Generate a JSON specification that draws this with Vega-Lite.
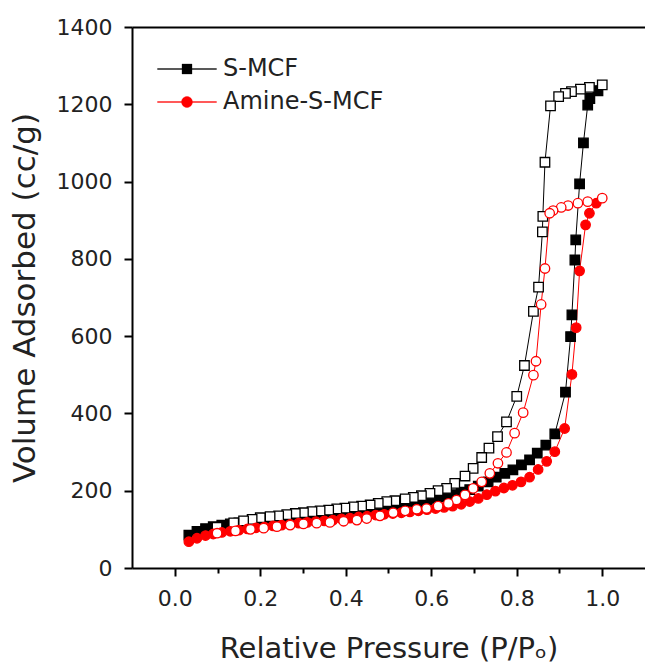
{
  "$schema": "https://vega.github.io/schema/vega-lite/v6.json",
  "autosize": "none",
  "width": 513,
  "height": 541,
  "padding": {"left": 132, "top": 27, "right": 0, "bottom": 103},
  "background": "white",
  "config": {
    "view": {"stroke": null},
    "font": "DejaVu Sans",
    "axis": {"domainColor": "black", "domainWidth": 2, "tickColor": "black", "tickWidth": 2, "labelColor": "#222", "titleColor": "#222", "labelFont": "DejaVu Sans", "titleFont": "DejaVu Sans", "titleFontWeight": "normal", "grid": false}
  },
  "data": {
    "values": [
      {"series": "S-MCF", "branch": "ads", "p": 0.033, "v": 85},
      {"series": "S-MCF", "branch": "ads", "p": 0.052, "v": 95},
      {"series": "S-MCF", "branch": "ads", "p": 0.072, "v": 102},
      {"series": "S-MCF", "branch": "ads", "p": 0.09, "v": 107},
      {"series": "S-MCF", "branch": "ads", "p": 0.11, "v": 111},
      {"series": "S-MCF", "branch": "ads", "p": 0.13, "v": 114},
      {"series": "S-MCF", "branch": "ads", "p": 0.15, "v": 117},
      {"series": "S-MCF", "branch": "ads", "p": 0.17, "v": 120},
      {"series": "S-MCF", "branch": "ads", "p": 0.19, "v": 123},
      {"series": "S-MCF", "branch": "ads", "p": 0.21, "v": 126},
      {"series": "S-MCF", "branch": "ads", "p": 0.23, "v": 129},
      {"series": "S-MCF", "branch": "ads", "p": 0.25, "v": 131},
      {"series": "S-MCF", "branch": "ads", "p": 0.27, "v": 134},
      {"series": "S-MCF", "branch": "ads", "p": 0.29, "v": 136},
      {"series": "S-MCF", "branch": "ads", "p": 0.31, "v": 138},
      {"series": "S-MCF", "branch": "ads", "p": 0.33, "v": 141},
      {"series": "S-MCF", "branch": "ads", "p": 0.35, "v": 143},
      {"series": "S-MCF", "branch": "ads", "p": 0.37, "v": 145},
      {"series": "S-MCF", "branch": "ads", "p": 0.39, "v": 148},
      {"series": "S-MCF", "branch": "ads", "p": 0.41, "v": 150},
      {"series": "S-MCF", "branch": "ads", "p": 0.43, "v": 152},
      {"series": "S-MCF", "branch": "ads", "p": 0.45, "v": 155},
      {"series": "S-MCF", "branch": "ads", "p": 0.47, "v": 158},
      {"series": "S-MCF", "branch": "ads", "p": 0.49, "v": 160},
      {"series": "S-MCF", "branch": "ads", "p": 0.51, "v": 163},
      {"series": "S-MCF", "branch": "ads", "p": 0.53, "v": 166},
      {"series": "S-MCF", "branch": "ads", "p": 0.55, "v": 169},
      {"series": "S-MCF", "branch": "ads", "p": 0.57, "v": 172},
      {"series": "S-MCF", "branch": "ads", "p": 0.59, "v": 176},
      {"series": "S-MCF", "branch": "ads", "p": 0.61, "v": 180},
      {"series": "S-MCF", "branch": "ads", "p": 0.63, "v": 185},
      {"series": "S-MCF", "branch": "ads", "p": 0.65, "v": 190},
      {"series": "S-MCF", "branch": "ads", "p": 0.67, "v": 196},
      {"series": "S-MCF", "branch": "ads", "p": 0.69, "v": 203},
      {"series": "S-MCF", "branch": "ads", "p": 0.71, "v": 212},
      {"series": "S-MCF", "branch": "ads", "p": 0.733, "v": 223},
      {"series": "S-MCF", "branch": "ads", "p": 0.752, "v": 235},
      {"series": "S-MCF", "branch": "ads", "p": 0.772, "v": 245},
      {"series": "S-MCF", "branch": "ads", "p": 0.791, "v": 254},
      {"series": "S-MCF", "branch": "ads", "p": 0.811, "v": 267},
      {"series": "S-MCF", "branch": "ads", "p": 0.83, "v": 280},
      {"series": "S-MCF", "branch": "ads", "p": 0.848, "v": 297},
      {"series": "S-MCF", "branch": "ads", "p": 0.868, "v": 318},
      {"series": "S-MCF", "branch": "ads", "p": 0.889, "v": 347},
      {"series": "S-MCF", "branch": "ads", "p": 0.914, "v": 455},
      {"series": "S-MCF", "branch": "ads", "p": 0.926, "v": 599},
      {"series": "S-MCF", "branch": "ads", "p": 0.929, "v": 655},
      {"series": "S-MCF", "branch": "ads", "p": 0.936, "v": 797},
      {"series": "S-MCF", "branch": "ads", "p": 0.938, "v": 849},
      {"series": "S-MCF", "branch": "ads", "p": 0.947, "v": 994},
      {"series": "S-MCF", "branch": "ads", "p": 0.956, "v": 1100},
      {"series": "S-MCF", "branch": "ads", "p": 0.966, "v": 1198},
      {"series": "S-MCF", "branch": "ads", "p": 0.971, "v": 1215},
      {"series": "S-MCF", "branch": "ads", "p": 0.99, "v": 1235},
      {"series": "S-MCF", "branch": "des", "p": 1.0, "v": 1250},
      {"series": "S-MCF", "branch": "des", "p": 0.97, "v": 1244},
      {"series": "S-MCF", "branch": "des", "p": 0.949, "v": 1239},
      {"series": "S-MCF", "branch": "des", "p": 0.928, "v": 1233},
      {"series": "S-MCF", "branch": "des", "p": 0.914, "v": 1228},
      {"series": "S-MCF", "branch": "des", "p": 0.898, "v": 1220},
      {"series": "S-MCF", "branch": "des", "p": 0.879, "v": 1196},
      {"series": "S-MCF", "branch": "des", "p": 0.866, "v": 1050},
      {"series": "S-MCF", "branch": "des", "p": 0.861, "v": 910},
      {"series": "S-MCF", "branch": "des", "p": 0.86, "v": 870},
      {"series": "S-MCF", "branch": "des", "p": 0.851, "v": 727},
      {"series": "S-MCF", "branch": "des", "p": 0.839, "v": 664},
      {"series": "S-MCF", "branch": "des", "p": 0.818, "v": 524},
      {"series": "S-MCF", "branch": "des", "p": 0.8, "v": 444},
      {"series": "S-MCF", "branch": "des", "p": 0.776, "v": 378},
      {"series": "S-MCF", "branch": "des", "p": 0.755, "v": 340},
      {"series": "S-MCF", "branch": "des", "p": 0.735, "v": 310},
      {"series": "S-MCF", "branch": "des", "p": 0.718, "v": 286},
      {"series": "S-MCF", "branch": "des", "p": 0.698, "v": 258},
      {"series": "S-MCF", "branch": "des", "p": 0.679, "v": 238},
      {"series": "S-MCF", "branch": "des", "p": 0.655, "v": 219},
      {"series": "S-MCF", "branch": "des", "p": 0.636, "v": 206},
      {"series": "S-MCF", "branch": "des", "p": 0.616, "v": 200},
      {"series": "S-MCF", "branch": "des", "p": 0.597, "v": 193},
      {"series": "S-MCF", "branch": "des", "p": 0.577, "v": 187},
      {"series": "S-MCF", "branch": "des", "p": 0.558, "v": 183},
      {"series": "S-MCF", "branch": "des", "p": 0.539, "v": 179},
      {"series": "S-MCF", "branch": "des", "p": 0.515, "v": 174},
      {"series": "S-MCF", "branch": "des", "p": 0.496, "v": 172},
      {"series": "S-MCF", "branch": "des", "p": 0.476, "v": 167},
      {"series": "S-MCF", "branch": "des", "p": 0.457, "v": 163},
      {"series": "S-MCF", "branch": "des", "p": 0.437, "v": 160},
      {"series": "S-MCF", "branch": "des", "p": 0.418, "v": 158},
      {"series": "S-MCF", "branch": "des", "p": 0.398, "v": 155},
      {"series": "S-MCF", "branch": "des", "p": 0.379, "v": 153},
      {"series": "S-MCF", "branch": "des", "p": 0.36, "v": 150},
      {"series": "S-MCF", "branch": "des", "p": 0.34, "v": 148},
      {"series": "S-MCF", "branch": "des", "p": 0.321, "v": 146},
      {"series": "S-MCF", "branch": "des", "p": 0.301, "v": 143},
      {"series": "S-MCF", "branch": "des", "p": 0.282, "v": 141},
      {"series": "S-MCF", "branch": "des", "p": 0.262, "v": 138},
      {"series": "S-MCF", "branch": "des", "p": 0.243, "v": 135},
      {"series": "S-MCF", "branch": "des", "p": 0.223, "v": 133},
      {"series": "S-MCF", "branch": "des", "p": 0.2, "v": 130},
      {"series": "S-MCF", "branch": "des", "p": 0.181, "v": 126},
      {"series": "S-MCF", "branch": "des", "p": 0.161, "v": 122},
      {"series": "S-MCF", "branch": "des", "p": 0.138, "v": 117},
      {"series": "S-MCF", "branch": "des", "p": 0.099, "v": 105},
      {"series": "Amine-S-MCF", "branch": "ads", "p": 0.033, "v": 68},
      {"series": "Amine-S-MCF", "branch": "ads", "p": 0.052, "v": 77},
      {"series": "Amine-S-MCF", "branch": "ads", "p": 0.072, "v": 84},
      {"series": "Amine-S-MCF", "branch": "ads", "p": 0.09, "v": 88},
      {"series": "Amine-S-MCF", "branch": "ads", "p": 0.11, "v": 92},
      {"series": "Amine-S-MCF", "branch": "ads", "p": 0.13, "v": 95},
      {"series": "Amine-S-MCF", "branch": "ads", "p": 0.15, "v": 98},
      {"series": "Amine-S-MCF", "branch": "ads", "p": 0.17, "v": 101},
      {"series": "Amine-S-MCF", "branch": "ads", "p": 0.19, "v": 104},
      {"series": "Amine-S-MCF", "branch": "ads", "p": 0.21, "v": 106},
      {"series": "Amine-S-MCF", "branch": "ads", "p": 0.23, "v": 109},
      {"series": "Amine-S-MCF", "branch": "ads", "p": 0.25, "v": 111},
      {"series": "Amine-S-MCF", "branch": "ads", "p": 0.27, "v": 113},
      {"series": "Amine-S-MCF", "branch": "ads", "p": 0.29, "v": 116},
      {"series": "Amine-S-MCF", "branch": "ads", "p": 0.31, "v": 118},
      {"series": "Amine-S-MCF", "branch": "ads", "p": 0.33, "v": 120},
      {"series": "Amine-S-MCF", "branch": "ads", "p": 0.35, "v": 122},
      {"series": "Amine-S-MCF", "branch": "ads", "p": 0.37, "v": 124},
      {"series": "Amine-S-MCF", "branch": "ads", "p": 0.39, "v": 127},
      {"series": "Amine-S-MCF", "branch": "ads", "p": 0.41, "v": 129},
      {"series": "Amine-S-MCF", "branch": "ads", "p": 0.43, "v": 132},
      {"series": "Amine-S-MCF", "branch": "ads", "p": 0.45, "v": 134},
      {"series": "Amine-S-MCF", "branch": "ads", "p": 0.47, "v": 137},
      {"series": "Amine-S-MCF", "branch": "ads", "p": 0.49, "v": 139},
      {"series": "Amine-S-MCF", "branch": "ads", "p": 0.51, "v": 141},
      {"series": "Amine-S-MCF", "branch": "ads", "p": 0.53, "v": 143},
      {"series": "Amine-S-MCF", "branch": "ads", "p": 0.55, "v": 145},
      {"series": "Amine-S-MCF", "branch": "ads", "p": 0.57, "v": 148},
      {"series": "Amine-S-MCF", "branch": "ads", "p": 0.59, "v": 151},
      {"series": "Amine-S-MCF", "branch": "ads", "p": 0.61, "v": 154},
      {"series": "Amine-S-MCF", "branch": "ads", "p": 0.63, "v": 157},
      {"series": "Amine-S-MCF", "branch": "ads", "p": 0.65, "v": 160},
      {"series": "Amine-S-MCF", "branch": "ads", "p": 0.67, "v": 165},
      {"series": "Amine-S-MCF", "branch": "ads", "p": 0.69, "v": 172},
      {"series": "Amine-S-MCF", "branch": "ads", "p": 0.71, "v": 180},
      {"series": "Amine-S-MCF", "branch": "ads", "p": 0.73, "v": 190},
      {"series": "Amine-S-MCF", "branch": "ads", "p": 0.75, "v": 199},
      {"series": "Amine-S-MCF", "branch": "ads", "p": 0.77, "v": 207},
      {"series": "Amine-S-MCF", "branch": "ads", "p": 0.79, "v": 214},
      {"series": "Amine-S-MCF", "branch": "ads", "p": 0.81, "v": 223},
      {"series": "Amine-S-MCF", "branch": "ads", "p": 0.83, "v": 235},
      {"series": "Amine-S-MCF", "branch": "ads", "p": 0.85, "v": 255},
      {"series": "Amine-S-MCF", "branch": "ads", "p": 0.87, "v": 276},
      {"series": "Amine-S-MCF", "branch": "ads", "p": 0.889, "v": 301},
      {"series": "Amine-S-MCF", "branch": "ads", "p": 0.912, "v": 361},
      {"series": "Amine-S-MCF", "branch": "ads", "p": 0.929, "v": 501},
      {"series": "Amine-S-MCF", "branch": "ads", "p": 0.939, "v": 622},
      {"series": "Amine-S-MCF", "branch": "ads", "p": 0.947, "v": 769},
      {"series": "Amine-S-MCF", "branch": "ads", "p": 0.961, "v": 888},
      {"series": "Amine-S-MCF", "branch": "ads", "p": 0.97, "v": 918},
      {"series": "Amine-S-MCF", "branch": "ads", "p": 0.986, "v": 944},
      {"series": "Amine-S-MCF", "branch": "des", "p": 1.0, "v": 957},
      {"series": "Amine-S-MCF", "branch": "des", "p": 0.966, "v": 948},
      {"series": "Amine-S-MCF", "branch": "des", "p": 0.943, "v": 944},
      {"series": "Amine-S-MCF", "branch": "des", "p": 0.92, "v": 938},
      {"series": "Amine-S-MCF", "branch": "des", "p": 0.904, "v": 933},
      {"series": "Amine-S-MCF", "branch": "des", "p": 0.885, "v": 925},
      {"series": "Amine-S-MCF", "branch": "des", "p": 0.877, "v": 918},
      {"series": "Amine-S-MCF", "branch": "des", "p": 0.866, "v": 775},
      {"series": "Amine-S-MCF", "branch": "des", "p": 0.857, "v": 682},
      {"series": "Amine-S-MCF", "branch": "des", "p": 0.845, "v": 535},
      {"series": "Amine-S-MCF", "branch": "des", "p": 0.839, "v": 499},
      {"series": "Amine-S-MCF", "branch": "des", "p": 0.815, "v": 402},
      {"series": "Amine-S-MCF", "branch": "des", "p": 0.795, "v": 349},
      {"series": "Amine-S-MCF", "branch": "des", "p": 0.776, "v": 299},
      {"series": "Amine-S-MCF", "branch": "des", "p": 0.756, "v": 271},
      {"series": "Amine-S-MCF", "branch": "des", "p": 0.737, "v": 245},
      {"series": "Amine-S-MCF", "branch": "des", "p": 0.718, "v": 223},
      {"series": "Amine-S-MCF", "branch": "des", "p": 0.698, "v": 206},
      {"series": "Amine-S-MCF", "branch": "des", "p": 0.679, "v": 189},
      {"series": "Amine-S-MCF", "branch": "des", "p": 0.659, "v": 176},
      {"series": "Amine-S-MCF", "branch": "des", "p": 0.64, "v": 167},
      {"series": "Amine-S-MCF", "branch": "des", "p": 0.616, "v": 160},
      {"series": "Amine-S-MCF", "branch": "des", "p": 0.589, "v": 154},
      {"series": "Amine-S-MCF", "branch": "des", "p": 0.566, "v": 152},
      {"series": "Amine-S-MCF", "branch": "des", "p": 0.539, "v": 148},
      {"series": "Amine-S-MCF", "branch": "des", "p": 0.511, "v": 143},
      {"series": "Amine-S-MCF", "branch": "des", "p": 0.48, "v": 135},
      {"series": "Amine-S-MCF", "branch": "des", "p": 0.449, "v": 128},
      {"series": "Amine-S-MCF", "branch": "des", "p": 0.426, "v": 124},
      {"series": "Amine-S-MCF", "branch": "des", "p": 0.395, "v": 121},
      {"series": "Amine-S-MCF", "branch": "des", "p": 0.363, "v": 118},
      {"series": "Amine-S-MCF", "branch": "des", "p": 0.332, "v": 116},
      {"series": "Amine-S-MCF", "branch": "des", "p": 0.301, "v": 114},
      {"series": "Amine-S-MCF", "branch": "des", "p": 0.27, "v": 111},
      {"series": "Amine-S-MCF", "branch": "des", "p": 0.239, "v": 107},
      {"series": "Amine-S-MCF", "branch": "des", "p": 0.208, "v": 103},
      {"series": "Amine-S-MCF", "branch": "des", "p": 0.177, "v": 100},
      {"series": "Amine-S-MCF", "branch": "des", "p": 0.142, "v": 96},
      {"series": "Amine-S-MCF", "branch": "des", "p": 0.099, "v": 90}
    ]
  },
  "transform": [
    {"window": [{"op": "row_number", "as": "seq"}]},
    {"calculate": "datum.series", "as": "sample"}
  ],
  "resolve": {"axis": {"x": "independent"}},
  "layer": [
    {
      "mark": {"type": "line", "strokeWidth": 1},
      "encoding": {
        "x": {
          "field": "p", "type": "quantitative",
          "scale": {"domain": [-0.1, 1.1], "nice": false, "zero": false},
          "axis": {
            "values": [0, 0.1, 0.2, 0.3, 0.4, 0.5, 0.6, 0.7, 0.8, 0.9, 1.0],
            "format": ".1f",
            "labelExpr": "round(datum.value * 10) % 2 === 0 ? datum.label : ''",
            "tickSize": {"condition": {"test": "round(datum.value * 10) % 2 === 0", "value": 8}, "value": 5},
            "labelFontSize": 22, "labelPadding": 12,
            "title": "Relative Pressure (P/Pₒ)", "titleFontSize": 29, "titlePadding": 25
          }
        },
        "y": {
          "field": "v", "type": "quantitative",
          "scale": {"domain": [0, 1400], "nice": false},
          "axis": {
            "values": [0, 100, 200, 300, 400, 500, 600, 700, 800, 900, 1000, 1100, 1200, 1300, 1400],
            "format": "d",
            "labelExpr": "datum.value % 200 === 0 ? datum.label : ''",
            "tickSize": {"condition": {"test": "datum.value % 200 === 0", "value": 8}, "value": 5},
            "labelFontSize": 22, "labelPadding": 12,
            "title": "Volume Adsorbed (cc/g)", "titleFontSize": 31, "titlePadding": 15
          }
        },
        "order": {"field": "seq", "type": "quantitative"},
        "color": {
          "field": "series", "type": "nominal",
          "scale": {"domain": ["S-MCF", "Amine-S-MCF"], "range": ["black", "red"]},
          "legend": {
            "orient": "none", "legendX": 43, "legendY": 30, "title": null, "padding": 0,
            "symbolSize": 400, "labelFontSize": 24, "labelFont": "DejaVu Sans", "labelColor": "#222",
            "labelOffset": 24, "rowPadding": 9, "labelLimit": 400,
            "encode": {
              "symbols": {
                "update": {
                  "shape": {"signal": "datum.value === 'S-MCF' ? 'M-2.95,-0.05H2.95V0.05H-2.95ZM-0.5,-0.5H0.5V0.5H-0.5Z' : 'M-2.95,-0.05H2.95V0.05H-2.95ZM-0.55,0A0.55,0.55 0 1,1 0.55,0A0.55,0.55 0 1,1 -0.55,0Z'"},
                  "fill": {"signal": "datum.value === 'S-MCF' ? 'black' : 'red'"},
                  "stroke": {"signal": "datum.value === 'S-MCF' ? 'black' : 'red'"},
                  "strokeWidth": {"value": 0.3},
                  "opacity": {"value": 1}
                }
              }
            }
          }
        }
      }
    },
    {
      "mark": {"type": "point", "size": 90, "strokeWidth": 1.3, "opacity": 1},
      "encoding": {
        "x": {
          "field": "p", "type": "quantitative",
          "axis": {"orient": "top", "labels": false, "ticks": false, "title": null, "domain": true}
        },
        "y": {"field": "v", "type": "quantitative"},
        "shape": {
          "field": "sample", "type": "nominal",
          "scale": {"domain": ["Amine-S-MCF", "S-MCF"], "range": ["circle", "square"]},
          "legend": null
        },
        "stroke": {
          "field": "sample", "type": "nominal",
          "scale": {"domain": ["Amine-S-MCF", "S-MCF"], "range": ["red", "black"]},
          "legend": null
        },
        "fill": {
          "condition": {"test": "datum.branch === 'des'", "value": "white"},
          "field": "sample", "type": "nominal",
          "scale": {"domain": ["Amine-S-MCF", "S-MCF"], "range": ["red", "black"]},
          "legend": null
        }
      }
    }
  ]
}
